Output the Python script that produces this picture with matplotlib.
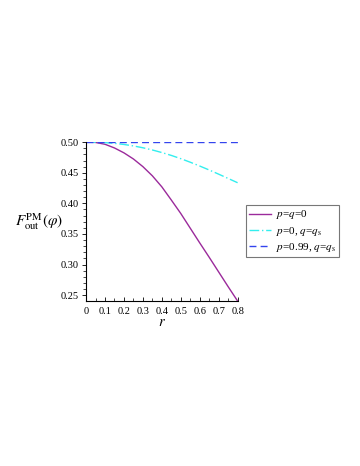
import matplotlib
matplotlib.use("Agg")
import matplotlib.pyplot as plt
from matplotlib.ticker import MultipleLocator, FormatStrFormatter

# values (r every 0.05)
r = [0.0, 0.05, 0.1, 0.15, 0.2, 0.25, 0.3, 0.35, 0.4,
     0.45, 0.5, 0.55, 0.6, 0.65, 0.7, 0.75, 0.8]
f_pq0 = [0.5, 0.4995, 0.4965, 0.4905, 0.4825, 0.4725, 0.46, 0.445, 0.427,
         0.4055, 0.3835, 0.3595, 0.3355, 0.312, 0.288, 0.264, 0.2405]
f_p0_qs = [0.5, 0.4998, 0.4992, 0.498, 0.4962, 0.4938, 0.4908, 0.4872, 0.483,
           0.4783, 0.473, 0.4672, 0.461, 0.4545, 0.4477, 0.4407, 0.4337]
f_p099_qs = [0.5] * len(r)
labels = [r"$p$=$q$=0", r"$p$=0, $q$=$q_{\mathrm{s}}$", r"$p$=0.99, $q$=$q_{\mathrm{s}}$"]

plt.rcParams["mathtext.fontset"] = "stix"
plt.rcParams["font.family"] = ["Liberation Serif", "DejaVu Serif"]

fig = plt.figure(figsize=(3.6, 4.66), dpi=100)
ax = fig.add_axes([0.239, 0.354, 0.421, 0.341])

ax.plot(r, f_pq0, color="#9b2a9b", lw=1.0, label=labels[0])
ax.plot(r, f_p0_qs, color="#33eeee", lw=1.0, dashes=(7, 2, 1, 2), label=labels[1])
ax.plot(r, f_p099_qs, color="#3344ee", lw=1.0, dashes=(5, 3), label=labels[2])

ax.set_xlim(0, 0.8)
ax.set_ylim(min(f_pq0), 0.5)
for s in ("top", "right"):
    ax.spines[s].set_visible(False)
for s in ("left", "bottom"):
    ax.spines[s].set_linewidth(0.8)

ax.xaxis.set_major_locator(MultipleLocator(0.1))
ax.xaxis.set_minor_locator(MultipleLocator(0.05))
ax.yaxis.set_major_locator(MultipleLocator(0.05))
ax.yaxis.set_minor_locator(MultipleLocator(0.01))
ax.xaxis.set_major_formatter(FormatStrFormatter("%g"))
ax.yaxis.set_major_formatter(FormatStrFormatter("%.2f"))
ax.tick_params(axis="x", which="both", direction="in", labelsize=7.5, pad=4)
ax.tick_params(axis="y", which="both", direction="out", labelsize=7.5, pad=2)
ax.tick_params(which="major", length=3, width=0.6)
ax.tick_params(which="minor", length=2, width=0.5)

ax.set_xlabel(r"$r$", fontsize=10.5, labelpad=0)
ax.set_ylabel(r"$F_{\mathrm{out}}^{\mathrm{PM}}(\varphi)$", fontsize=11,
              rotation=0, labelpad=16, va="center")

leg = ax.legend(loc="upper left", bbox_to_anchor=(1.055, 0.604), fontsize=8,
                frameon=True, fancybox=False, handlelength=2.0,
                handletextpad=0.4, borderpad=0.3, labelspacing=0.3,
                borderaxespad=0)
leg.get_frame().set_edgecolor("#555555")
leg.get_frame().set_linewidth(0.8)

fig.savefig("out.png", dpi=100)
